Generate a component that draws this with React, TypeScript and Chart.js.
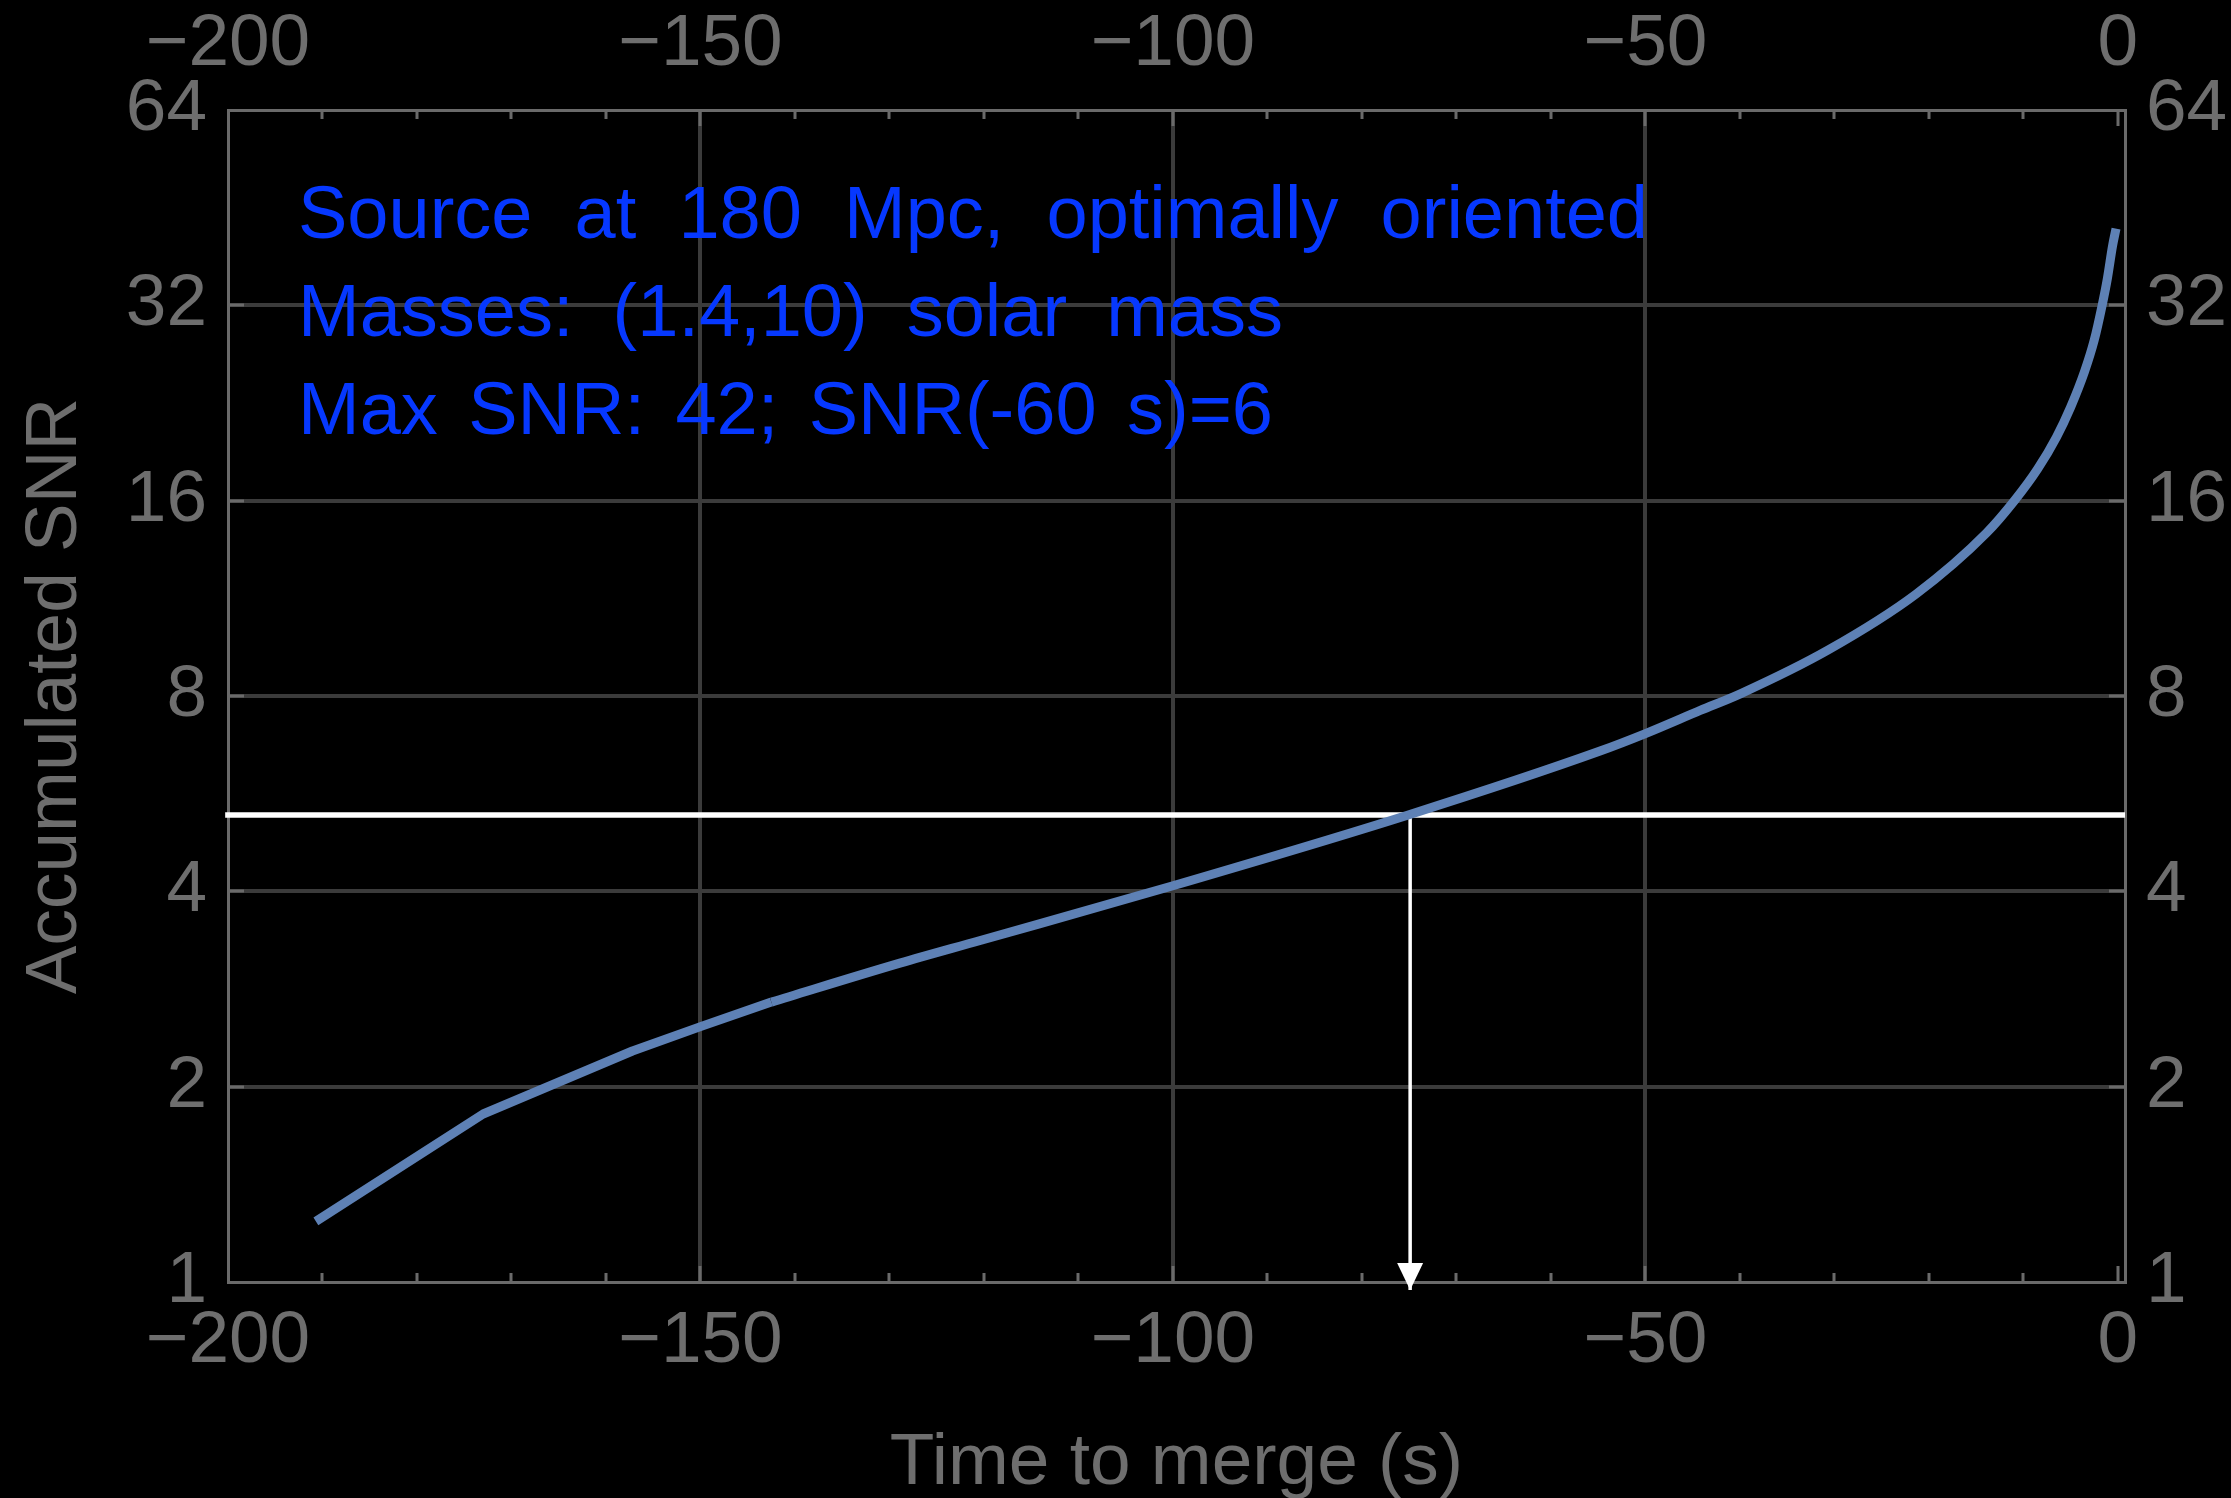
import React, { useEffect, useRef } from "react";
import { Chart, registerables } from "chart.js";

Chart.register(...registerables);

// ---------- data ----------
const X_MIN = -200;
const X_MAX = 0.75;
const X_MAJOR_TICKS = [-200, -150, -100, -50, 0];
const X_MINOR_TICKS = [-190, -180, -170, -160, -140, -130, -120, -110, -90, -80, -70, -60, -40, -30, -20, -10];
const X_GRID = [-150, -100, -50];
const Y_MIN = 1;
const Y_MAX = 64;
const Y_TICKS = [1, 2, 4, 8, 16, 32, 64];
const Y_GRID = [2, 4, 8, 16, 32];

// early (piecewise straight) part of the accumulated SNR curve
const EARLY_TIME = [-190.7, -173.0, -157.2, -150.0, -142.5];
const EARLY_SNR = [1.24, 1.815, 2.27, 2.475, 2.7];
// late (smooth) part of the curve
const LATE_TIME = [-142.5, -128.9, -120.4, -100, -75.1, -54.8, -50, -44.2, -39.9, -30.6, -21.35, -13.9, -10.95, -8.5, -6.5, -5.0, -3.53, -2.5, -1.67, -1.1, -0.57, -0.2];
const LATE_SNR = [2.7, 3.1, 3.36, 4.08, 5.245, 6.58, 7.0, 7.6, 8.07, 9.43, 11.49, 14.27, 16.0, 17.9, 20.05, 22.3, 25.3, 28.3, 32, 35.3, 39.5, 42];

const THRESHOLD_SNR = 5.245;
const THRESHOLD_START = -200.3;
const THRESHOLD_END = 0.75;
const CROSSING_TIME = -74.9;
const ARROW_TIP_SNR = 0.972;

const ANNOTATION_LINES = [
  "Source at 180 Mpc, optimally oriented",
  "Masses: (1.4,10) solar mass",
  "Max SNR: 42; SNR(-60 s)=6",
];
const X_TITLE = "Time to merge (s)";
const Y_TITLE = "Accumulated SNR";

// ---------- style / layout ----------
const FONT = '"Liberation Sans", Arial, Helvetica, sans-serif';
const TEXT_COLOR = "#6e6e6e";
const FRAME_COLOR = "#6a6a6a";
const GRID_COLOR = "#3b3b3b";
const CURVE_COLOR = "#5E81B5";
const ANNO_COLOR = "#0638ff";
const ANNO_LINE_WIDTHS = [1350, 985, 975];

const fmt = (v: number) => (v < 0 ? "\u2212" + Math.abs(v) : String(v));

const decorPlugin = {
  id: "decor",
  beforeDatasetsDraw(chart: any) {
    const { ctx, chartArea } = chart;
    const { left, right, top, bottom } = chartArea;
    const xs = chart.scales.x;
    const ys = chart.scales.y;
    ctx.save();
    ctx.strokeStyle = FRAME_COLOR;
    ctx.lineWidth = 3;
    ctx.beginPath();
    for (const v of X_MAJOR_TICKS) {
      if (v === X_MIN) continue;
      const px = Math.round(xs.getPixelForValue(v));
      ctx.moveTo(px, bottom);
      ctx.lineTo(px, bottom - 16);
      ctx.moveTo(px, top);
      ctx.lineTo(px, top + 16);
    }
    for (const v of X_MINOR_TICKS) {
      const px = Math.round(xs.getPixelForValue(v));
      ctx.moveTo(px, bottom);
      ctx.lineTo(px, bottom - 9);
      ctx.moveTo(px, top);
      ctx.lineTo(px, top + 9);
    }
    for (const v of Y_GRID) {
      const py = Math.round(ys.getPixelForValue(v));
      ctx.moveTo(left, py);
      ctx.lineTo(left + 16, py);
      ctx.moveTo(right, py);
      ctx.lineTo(right - 16, py);
    }
    ctx.stroke();
    ctx.restore();
  },
  afterDraw(chart: any) {
    const { ctx, chartArea } = chart;
    const { left, right, top, bottom } = chartArea;
    const xs = chart.scales.x;
    const ys = chart.scales.y;
    ctx.save();
    // arrow head
    const tx = xs.getPixelForValue(CROSSING_TIME);
    const ty = ys.getPixelForValue(ARROW_TIP_SNR);
    ctx.fillStyle = "#ffffff";
    ctx.beginPath();
    ctx.moveTo(tx, ty);
    ctx.lineTo(tx - 13, ty - 27);
    ctx.lineTo(tx + 13, ty - 27);
    ctx.closePath();
    ctx.fill();

    // annotation
    ctx.fillStyle = ANNO_COLOR;
    ctx.font = `74px ${FONT}`;
    ctx.textAlign = "left";
    ctx.textBaseline = "alphabetic";
    ANNOTATION_LINES.forEach((line, i) => {
      const words = line.split(" ");
      const wordsW = words.reduce((s, w) => s + ctx.measureText(w).width, 0);
      const gap = (ANNO_LINE_WIDTHS[i] - wordsW) / Math.max(1, words.length - 1);
      let x = left + 70;
      const y = top + 128 + i * 98;
      for (const w of words) {
        ctx.fillText(w, x, y);
        x += ctx.measureText(w).width + gap;
      }
    });

    // axis titles
    ctx.fillStyle = TEXT_COLOR;
    ctx.font = `73px ${FONT}`;
    ctx.textAlign = "center";
    ctx.fillText(X_TITLE, (left + right) / 2, bottom + 202);
    ctx.translate(76, (top + bottom) / 2);
    ctx.rotate(-Math.PI / 2);
    ctx.fillText(Y_TITLE, 0, 0);
    ctx.restore();
  },
};

export default function App() {
  const ref = useRef<HTMLCanvasElement>(null);
  useEffect(() => {
    if (!ref.current) return;
    const tickFont = { family: FONT, size: 73 };
    const setX = (s: any) => {
      s.ticks = X_MAJOR_TICKS.map((v) => ({ value: v }));
    };
    const setY = (s: any) => {
      s.ticks = Y_TICKS.map((v) => ({ value: v }));
    };
    const chart = new Chart(ref.current, {
      type: "line",
      data: {
        datasets: [
          {
            data: EARLY_TIME.map((t, i) => ({ x: t, y: EARLY_SNR[i] })),
            borderColor: CURVE_COLOR,
            borderWidth: 9,
            pointRadius: 0,
            tension: 0,
            borderCapStyle: "butt",
            borderJoinStyle: "round",
            xAxisID: "x",
            yAxisID: "y",
          },
          {
            data: LATE_TIME.map((t, i) => ({ x: t, y: LATE_SNR[i] })),
            borderColor: CURVE_COLOR,
            borderWidth: 9,
            pointRadius: 0,
            cubicInterpolationMode: "monotone",
            borderCapStyle: "butt",
            borderJoinStyle: "round",
            xAxisID: "x",
            yAxisID: "y",
          },
          {
            data: [
              { x: THRESHOLD_START, y: THRESHOLD_SNR },
              { x: THRESHOLD_END, y: THRESHOLD_SNR },
            ],
            borderColor: "#ffffff",
            borderWidth: 5.5,
            pointRadius: 0,
            clip: false,
            xAxisID: "x",
            yAxisID: "y",
          },
          {
            data: [
              { x: CROSSING_TIME, y: THRESHOLD_SNR },
              { x: CROSSING_TIME, y: ARROW_TIP_SNR },
            ],
            borderColor: "#ffffff",
            borderWidth: 3.5,
            pointRadius: 0,
            clip: false,
            xAxisID: "x",
            yAxisID: "y",
          },
        ],
      } as any,
      options: {
        animation: false,
        responsive: false,
        events: [],
        layout: { padding: 0 },
        plugins: { legend: { display: false }, tooltip: { enabled: false } },
        scales: {
          x: {
            type: "linear",
            position: "bottom",
            min: X_MIN,
            max: X_MAX,
            afterBuildTicks: setX,
            afterFit: (s: any) => {
              s.height = 216;
            },
            grid: {
              color: (c: any) => (X_GRID.includes(c.tick?.value) ? GRID_COLOR : "rgba(0,0,0,0)"),
              lineWidth: 4,
              drawTicks: false,
            },
            border: { display: true, color: FRAME_COLOR, width: 3 },
            ticks: { color: TEXT_COLOR, font: tickFont, padding: 16, maxRotation: 0, autoSkip: false, callback: (v: any) => fmt(Number(v)) },
          },
          x2: {
            type: "linear",
            position: "top",
            min: X_MIN,
            max: X_MAX,
            afterBuildTicks: setX,
            afterFit: (s: any) => {
              s.height = 110;
            },
            grid: { display: false, drawTicks: false },
            border: { display: true, color: FRAME_COLOR, width: 3 },
            ticks: { color: TEXT_COLOR, font: tickFont, padding: 21, maxRotation: 0, autoSkip: false, callback: (v: any) => fmt(Number(v)) },
          },
          y: {
            type: "logarithmic",
            position: "left",
            min: Y_MIN,
            max: Y_MAX,
            afterBuildTicks: setY,
            afterFit: (s: any) => {
              s.width = 228;
            },
            grid: {
              color: (c: any) => (Y_GRID.includes(c.tick?.value) ? GRID_COLOR : "rgba(0,0,0,0)"),
              lineWidth: 4,
              drawTicks: false,
            },
            border: { display: true, color: FRAME_COLOR, width: 3 },
            ticks: { color: TEXT_COLOR, font: tickFont, padding: 21, autoSkip: false, callback: (v: any) => String(v) },
          },
          y2: {
            type: "logarithmic",
            position: "right",
            min: Y_MIN,
            max: Y_MAX,
            afterBuildTicks: setY,
            afterFit: (s: any) => {
              s.width = 106;
            },
            grid: { display: false, drawTicks: false },
            border: { display: true, color: FRAME_COLOR, width: 3 },
            ticks: { color: TEXT_COLOR, font: tickFont, padding: 21, autoSkip: false, callback: (v: any) => String(v) },
          },
        },
      } as any,
      plugins: [decorPlugin],
    });
    return () => chart.destroy();
  }, []);

  return (
    <div style={{ position: "fixed", left: 0, top: 0, width: 2231, height: 1498, background: "#000" }}>
      <canvas ref={ref} width={2231} height={1498} style={{ display: "block", width: 2231, height: 1498 }} />
    </div>
  );
}
